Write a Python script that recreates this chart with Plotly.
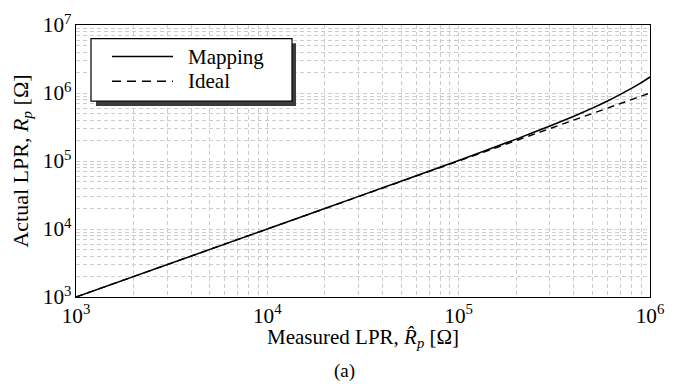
import plotly.graph_objects as go

# Data
measured = [1e3, 1e4, 3e4, 1e5, 2e5, 3e5, 4e5, 5e5, 6e5, 7e5, 8e5, 9e5, 1e6]
actual_mapping = [1e3, 1.0e4, 3.02e4, 1.02e5, 2.1e5, 3.27e5, 4.56e5, 6.0e5, 7.62e5, 9.52e5, 1.17e6, 1.42e6, 1.72e6]
ideal_x = [1e3, 1e6]
ideal_y = [1e3, 1e6]

series_names = ["Mapping", "Ideal"]
x_title = "Measured LPR, <i>R\u0302</i><sub><i>p</i></sub> [\u03a9]"
y_title = "Actual LPR, <i>R</i><sub><i>p</i></sub> [\u03a9]"
caption = "(a)"

FONT = "Liberation Serif"
L, R, T, B = 76, 38, 10.7, 92.7
W, H = 688, 390
pw, ph = W - L - R, H - T - B

def px(x):
    return (x - L) / pw

def py(y):
    return (H - B - y) / ph

fig = go.Figure()
fig.add_trace(go.Scatter(x=measured, y=actual_mapping, mode="lines", name=series_names[0],
                         line=dict(color="black", width=1.5, shape="spline", smoothing=0.6),
                         showlegend=False))
fig.add_trace(go.Scatter(x=ideal_x, y=ideal_y, mode="lines", name=series_names[1],
                         line=dict(color="black", width=1.4, dash="7px,5px"), showlegend=False))

grid = dict(showgrid=True, gridcolor="#cccccc", gridwidth=0.7, griddash="4px,3px")
axis_common = dict(
    type="log", dtick=1, exponentformat="power", showexponent="all",
    showline=True, linecolor="black", linewidth=1.2, mirror=True,
    ticks="", zeroline=False, ticklabeloverflow="allow",
    tickfont=dict(family=FONT, size=17, color="black"),
    minor=dict(dtick="D1", ticks="", **grid),
    **grid,
)

fig.update_xaxes(range=[3, 6], **axis_common)
fig.update_yaxes(range=[3, 7],
                 title=dict(text=y_title, font=dict(family=FONT, size=22, color="black"), standoff=8),
                 **axis_common)

# Legend box with shadow (manual)
shapes = [
    dict(type="rect", xref="paper", yref="paper", x0=px(96), x1=px(296), y0=py(96), y1=py(30),
         fillcolor="#3c3c3c", line=dict(width=0), layer="above"),
    dict(type="rect", xref="paper", yref="paper", x0=px(91), x1=px(292), y0=py(91), y1=py(25),
         fillcolor="white", line=dict(color="black", width=1.2), layer="above"),
    dict(type="line", xref="paper", yref="paper", x0=px(112), x1=px(173), y0=py(44), y1=py(44),
         line=dict(color="black", width=1.5), layer="above"),
    dict(type="line", xref="paper", yref="paper", x0=px(112), x1=px(173), y0=py(70), y1=py(70),
         line=dict(color="black", width=1.4, dash="9px,6px"), layer="above"),
]
annotations = [
    dict(text=series_names[0], xref="paper", yref="paper", x=px(186), y=py(44), xanchor="left",
         yanchor="middle", showarrow=False, font=dict(family=FONT, size=21, color="black")),
    dict(text=series_names[1], xref="paper", yref="paper", x=px(186), y=py(70), xanchor="left",
         yanchor="middle", showarrow=False, font=dict(family=FONT, size=21, color="black")),
    dict(text=x_title, xref="paper", yref="paper", x=0.5, y=py(340), xanchor="center",
         yanchor="middle", showarrow=False, font=dict(family=FONT, size=21, color="black")),
    dict(text=caption, xref="paper", yref="paper", x=px(344), y=py(375), xanchor="center",
         yanchor="middle", showarrow=False, font=dict(family=FONT, size=19, color="black")),
]

fig.update_layout(
    width=W, height=H,
    margin=dict(l=L, r=R, t=T, b=B),
    paper_bgcolor="white", plot_bgcolor="white",
    shapes=shapes, annotations=annotations,
    showlegend=False,
)

fig.write_html("out.html")
